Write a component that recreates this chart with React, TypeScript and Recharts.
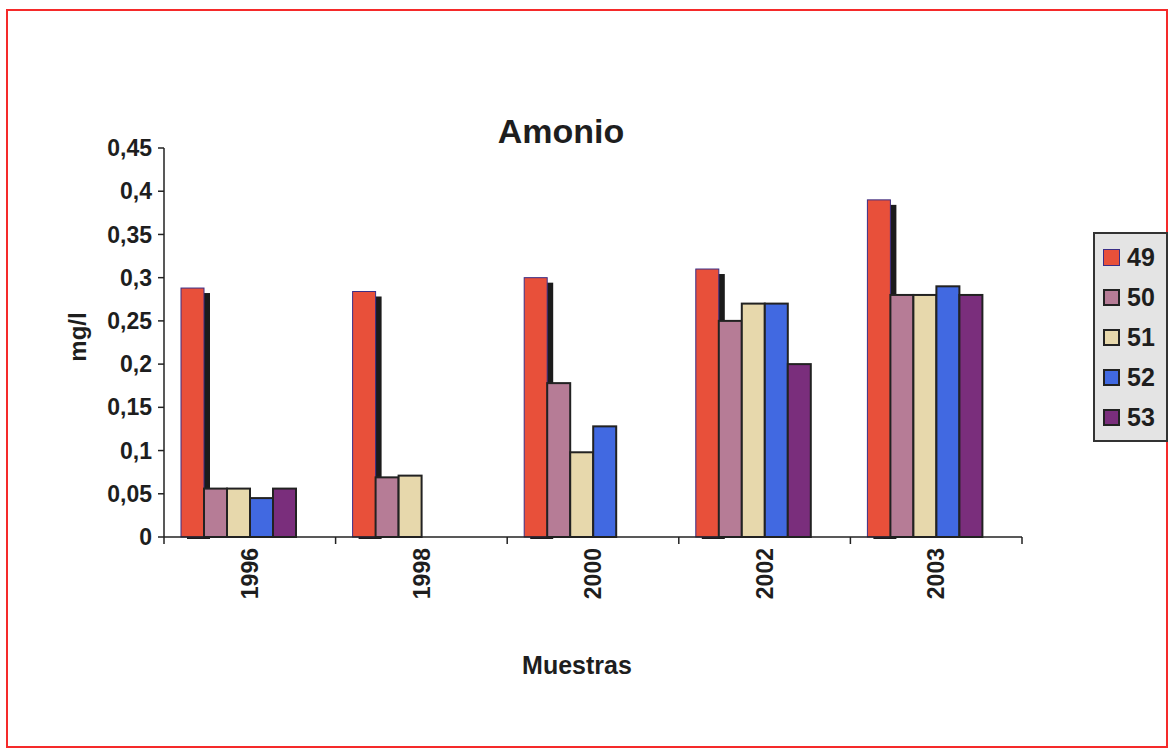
import React from "react";
import { BarChart, Bar, XAxis, YAxis } from "recharts";

// Amonio por muestra (mg/l)
const CATEGORIES = ["1996", "1998", "2000", "2002", "2003"];
const S49 = [0.288, 0.284, 0.3, 0.31, 0.39];
const S50 = [0.056, 0.069, 0.178, 0.25, 0.28];
const S51 = [0.056, 0.071, 0.098, 0.27, 0.28];
const S52: (number | null)[] = [0.045, null, 0.128, 0.27, 0.29];
const S53: (number | null)[] = [0.056, null, null, 0.2, 0.28];
const Y_TICKS = [0, 0.05, 0.1, 0.15, 0.2, 0.25, 0.3, 0.35, 0.4, 0.45];

const SERIES = [
  { key: "s49", name: "49", values: S49, fill: "#E8503A", stroke: "#3B2E86", strokeWidth: 1, shadow: true },
  { key: "s50", name: "50", values: S50, fill: "#B67C96", stroke: "#222", strokeWidth: 2, shadow: false },
  { key: "s51", name: "51", values: S51, fill: "#E7D8AC", stroke: "#222", strokeWidth: 2, shadow: false },
  { key: "s52", name: "52", values: S52, fill: "#4169E1", stroke: "#222", strokeWidth: 2, shadow: false },
  { key: "s53", name: "53", values: S53, fill: "#7A2E7C", stroke: "#222", strokeWidth: 2, shadow: false },
];

const data = CATEGORIES.map((year, i) => {
  const row: Record<string, string | number | null> = { year };
  SERIES.forEach((s) => (row[s.key] = s.values[i]));
  return row;
});

const FONT = "Arial, 'Liberation Sans', sans-serif";
const W = 1172;
const H = 751;
const MARGIN = { top: 148, right: 150, bottom: 144, left: 94 };
const Y_AXIS_W = 70;
const X_AXIS_H = 70;
const PLOT_W = W - MARGIN.left - Y_AXIS_W - MARGIN.right;
const BAND = PLOT_W / CATEGORIES.length;
// Excel draws the groups slightly left of the category centre
const GROUP_SHIFT = -11;

function makeShape(shadow: boolean) {
  return function BarShape(props: any) {
    const { x, y, width, height, fill, stroke, strokeWidth } = props;
    if (height == null || height <= 0) return null;
    const bx = x + GROUP_SHIFT;
    return (
      <g>
        {shadow && <rect x={bx + 6} y={y + 5} width={width} height={height - 3} fill="#1b1b1b" />}
        <rect x={bx} y={y} width={width} height={height} fill={fill} stroke={stroke} strokeWidth={strokeWidth} />
      </g>
    );
  };
}

function YearTick(props: any) {
  const { x, y, payload, index } = props;
  const left = x - BAND / 2;
  const right = x + BAND / 2;
  return (
    <g>
      <line x1={left} y1={y} x2={left} y2={y + 7} stroke="#222" strokeWidth={1.5} />
      {index === CATEGORIES.length - 1 && <line x1={right} y1={y} x2={right} y2={y + 7} stroke="#222" strokeWidth={1.5} />}
      <text
        x={x}
        y={y + 11}
        dy="0.36em"
        transform={`rotate(-90, ${x}, ${y + 11})`}
        textAnchor="end"
        fontFamily={FONT}
        fontWeight="bold"
        fontSize={23}
        fill="#1e1e1e"
      >
        {payload.value}
      </text>
    </g>
  );
}

export default function App() {
  return (
    <div style={{ position: "relative", width: W, height: H, background: "#fff", fontFamily: FONT }}>
      <style>{"body{margin:0}"}</style>
      <div style={{ position: "absolute", left: 6, top: 9, width: W - 10, height: H - 12, border: "2px solid #f52a2a", boxSizing: "border-box" }} />

      <BarChart width={W} height={H} data={data} margin={MARGIN} barGap={0} barSize={23} style={{ position: "absolute", left: 0, top: 0 }}>
        <XAxis
          dataKey="year"
          height={X_AXIS_H}
          tickLine={false}
          tickSize={0}
          tickMargin={0}
          axisLine={{ stroke: "#222", strokeWidth: 1.5 }}
          tick={<YearTick />}
          interval={0}
        />
        <YAxis
          width={Y_AXIS_W}
          domain={[0, 0.45]}
          ticks={Y_TICKS}
          interval={0}
          tickSize={6}
          tickMargin={6}
          tickLine={{ stroke: "#222", strokeWidth: 1.5 }}
          axisLine={{ stroke: "#222", strokeWidth: 1.5 }}
          tickFormatter={(v: number) => String(v).replace(".", ",")}
          tick={{ fontFamily: FONT, fontWeight: "bold", fontSize: 23, fill: "#1e1e1e" }}
        />
        {SERIES.map((s) => (
          <Bar
            key={s.key}
            dataKey={s.key}
            name={s.name}
            fill={s.fill}
            stroke={s.stroke}
            strokeWidth={s.strokeWidth}
            shape={makeShape(s.shadow)}
            isAnimationActive={false}
          />
        ))}
      </BarChart>

      <div style={{ position: "absolute", left: 0, width: 1122, top: 111, textAlign: "center", fontSize: 34, fontWeight: "bold", color: "#1e1e1e", lineHeight: "40px" }}>
        Amonio
      </div>
      <div style={{ position: "absolute", left: 0, width: 1154, top: 650, textAlign: "center", fontSize: 25, fontWeight: "bold", color: "#1e1e1e", lineHeight: "30px" }}>
        Muestras
      </div>
      <div
        style={{
          position: "absolute",
          left: 78,
          top: 337,
          transform: "translate(-50%, -50%) rotate(-90deg)",
          fontSize: 24,
          fontWeight: "bold",
          color: "#1e1e1e",
          whiteSpace: "nowrap",
          lineHeight: "28px",
        }}
      >
        mg/l
      </div>

      <div
        style={{
          position: "absolute",
          left: 1093,
          top: 232,
          width: 75,
          padding: "3px 0",
          background: "#e4e4e4",
          border: "2px solid #333",
          boxSizing: "border-box",
        }}
      >
        {SERIES.map((s) => (
          <div key={s.key} style={{ height: 40, display: "flex", alignItems: "center" }}>
            <span
              style={{
                display: "inline-block",
                width: 17,
                height: 17,
                marginLeft: 8,
                background: s.fill,
                border: `${s.strokeWidth === 1 ? 1 : 2}px solid ${s.stroke}`,
                boxSizing: "border-box",
              }}
            />
            <span style={{ marginLeft: 7, fontSize: 25, fontWeight: "bold", color: "#1e1e1e" }}>{s.name}</span>
          </div>
        ))}
      </div>
    </div>
  );
}
